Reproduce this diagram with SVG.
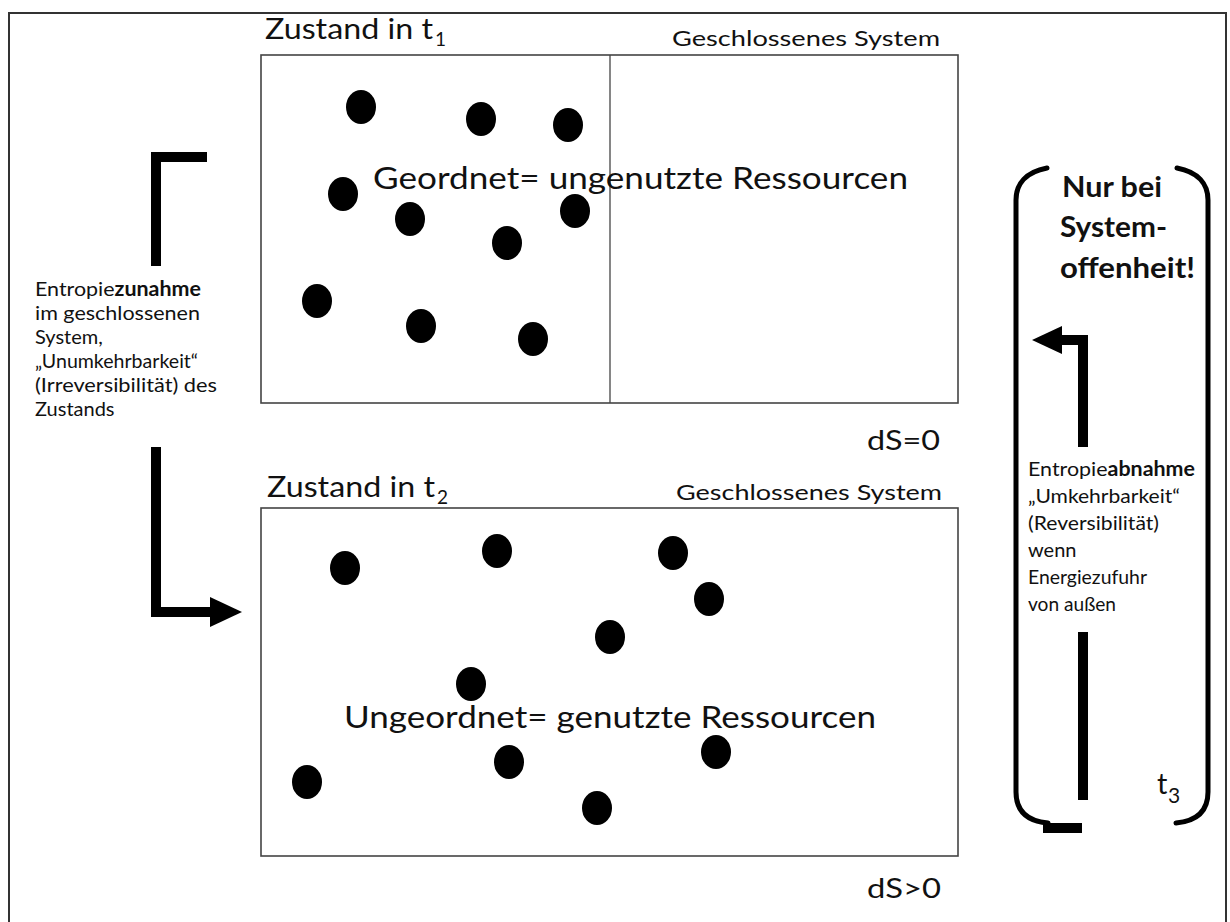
<svg xmlns="http://www.w3.org/2000/svg" width="1230" height="922" viewBox="0 0 1230 922">
<defs>
<style>
.t{font-family:Lato,"Open Sans","Liberation Sans",sans-serif;fill:#111}
.box{fill:none;stroke:#444;stroke-width:1.6}
.dot{fill:#000}
.thick{fill:none;stroke:#000;stroke-width:10;stroke-linejoin:miter;stroke-linecap:butt}
.paren{fill:none;stroke:#000;stroke-width:5;stroke-linecap:round}
.head{fill:#000}
.sm{font-size:20px}
.b{font-weight:bold}
</style>
</defs>
<rect width="1230" height="922" fill="#fff"/>
<path d="M9,922 V13 H1226 V922" fill="none" stroke="#333" stroke-width="2"/>

<g id="state-t1">
<text class="t" x="265" y="39" font-size="29" textLength="168" lengthAdjust="spacingAndGlyphs">Zustand in t</text>
<text class="t" x="435" y="46" font-size="19">1</text>
<text class="t" x="672" y="46" font-size="21" textLength="268" lengthAdjust="spacingAndGlyphs">Geschlossenes  System</text>
<rect class="box" x="261" y="55" width="697" height="348"/>
<line x1="610" y1="55" x2="610" y2="403" stroke="#444" stroke-width="1.3"/>
<ellipse class="dot" cx="361" cy="107" rx="15" ry="17"/>
<ellipse class="dot" cx="481" cy="119" rx="15" ry="17"/>
<ellipse class="dot" cx="568" cy="125" rx="15" ry="17"/>
<ellipse class="dot" cx="343" cy="194" rx="15" ry="17"/>
<ellipse class="dot" cx="410" cy="219" rx="15" ry="17"/>
<ellipse class="dot" cx="575" cy="211" rx="15" ry="17"/>
<ellipse class="dot" cx="507" cy="243" rx="15" ry="17"/>
<ellipse class="dot" cx="317" cy="301" rx="15" ry="17"/>
<ellipse class="dot" cx="421" cy="326" rx="15" ry="17"/>
<ellipse class="dot" cx="533" cy="339" rx="15" ry="17"/>
<text class="t" x="373" y="189" font-size="31" textLength="535" lengthAdjust="spacingAndGlyphs">Geordnet= ungenutzte Ressourcen</text>
<text class="t" x="867" y="450" font-size="27" textLength="73" lengthAdjust="spacingAndGlyphs">dS=0</text>
</g>

<g id="state-t2">
<text class="t" x="267" y="497" font-size="29" textLength="168" lengthAdjust="spacingAndGlyphs">Zustand in t</text>
<text class="t" x="437" y="504" font-size="19">2</text>
<text class="t" x="676" y="500" font-size="21" textLength="266" lengthAdjust="spacingAndGlyphs">Geschlossenes  System</text>
<rect class="box" x="261" y="508" width="697" height="348"/>
<ellipse class="dot" cx="345" cy="568" rx="15" ry="17"/>
<ellipse class="dot" cx="497" cy="551" rx="15" ry="17"/>
<ellipse class="dot" cx="673" cy="553" rx="15" ry="17"/>
<ellipse class="dot" cx="709" cy="599" rx="15" ry="17"/>
<ellipse class="dot" cx="610" cy="637" rx="15" ry="17"/>
<ellipse class="dot" cx="471" cy="684" rx="15" ry="17"/>
<ellipse class="dot" cx="509" cy="762" rx="15" ry="17"/>
<ellipse class="dot" cx="716" cy="752" rx="15" ry="17"/>
<ellipse class="dot" cx="307" cy="782" rx="15" ry="17"/>
<ellipse class="dot" cx="597" cy="808" rx="15" ry="17"/>
<text class="t" x="344" y="728" font-size="31" textLength="532" lengthAdjust="spacingAndGlyphs">Ungeordnet= genutzte Ressourcen</text>
<text class="t" x="867" y="898" font-size="27" textLength="74" lengthAdjust="spacingAndGlyphs">dS&gt;0</text>
</g>

<g id="label-increase">
<text class="t sm" x="35" y="296" textLength="166" lengthAdjust="spacingAndGlyphs">Entropie<tspan class="b">zunahme</tspan></text>
<text class="t sm" x="35" y="320" textLength="165" lengthAdjust="spacingAndGlyphs">im geschlossenen</text>
<text class="t sm" x="35" y="344">System,</text>
<text class="t sm" x="35" y="368" textLength="163" lengthAdjust="spacingAndGlyphs">„Unumkehrbarkeit“</text>
<text class="t sm" x="35" y="392" textLength="182" lengthAdjust="spacingAndGlyphs">(Irreversibilität) des</text>
<text class="t sm" x="35" y="416">Zustands</text>
</g>

<g id="label-open">
<text class="t b" x="1062" y="197" font-size="29" textLength="100" lengthAdjust="spacingAndGlyphs">Nur bei</text>
<text class="t b" x="1060" y="237" font-size="29" textLength="107" lengthAdjust="spacingAndGlyphs">System-</text>
<text class="t b" x="1060" y="278" font-size="29" textLength="135" lengthAdjust="spacingAndGlyphs">offenheit!</text>
</g>

<g id="label-decrease">
<text class="t sm" x="1028" y="476" textLength="167" lengthAdjust="spacingAndGlyphs">Entropie<tspan class="b">abnahme</tspan></text>
<text class="t sm" x="1028" y="503" textLength="152" lengthAdjust="spacingAndGlyphs">„Umkehrbarkeit“</text>
<text class="t sm" x="1028" y="530" textLength="131" lengthAdjust="spacingAndGlyphs">(Reversibilität)</text>
<text class="t sm" x="1028" y="557">wenn</text>
<text class="t sm" x="1028" y="584" textLength="119" lengthAdjust="spacingAndGlyphs">Energiezufuhr</text>
<text class="t sm" x="1028" y="611" textLength="88" lengthAdjust="spacingAndGlyphs">von außen</text>
<text class="t" x="1157" y="794" font-size="29">t</text>
<text class="t" x="1168" y="803" font-size="21">3</text>
</g>

<g id="connectors">
<path class="thick" d="M207,157 H156 V266"/>
<path class="thick" d="M156,447 V612 H212"/>
<polygon class="head" points="210,597 242,612 210,627"/>
<path class="thick" d="M1083,447 V340 H1060"/>
<polygon class="head" points="1062,326 1032,340 1062,354"/>
<path class="thick" d="M1083,632 V800"/>
<path class="thick" d="M1043,828 H1082"/>
<path class="paren" d="M1047,168 C1026,172 1016,184 1016,200 V792 C1016,810 1026,821 1048,823"/>
<path class="paren" d="M1177,168 C1198,172 1208,184 1208,200 V792 C1208,810 1198,821 1176,823"/>
</g>
</svg>
